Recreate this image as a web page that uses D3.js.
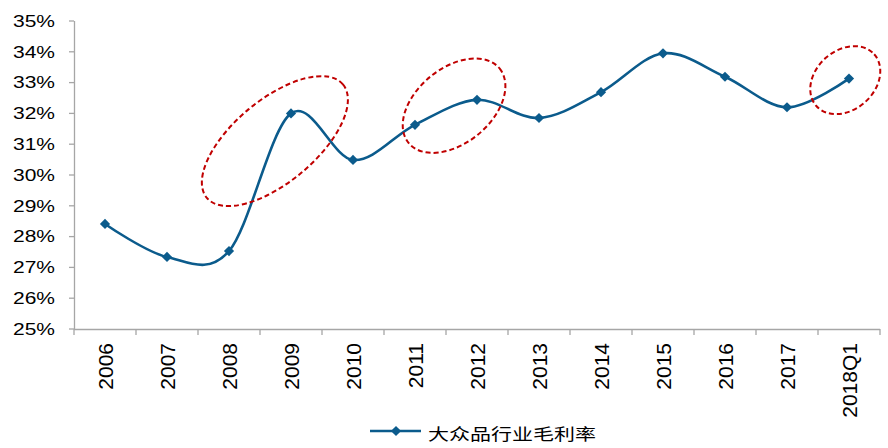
<!DOCTYPE html>
<html>
<head>
<meta charset="utf-8">
<script src="https://cdn.jsdelivr.net/npm/d3@7"></script>
<style>
  html, body { margin: 0; padding: 0; background: #fff; }
  svg { display: block; }
  text { font-family: "Liberation Sans", Arial, "Noto Sans CJK SC", sans-serif; fill: #000; }
</style>
</head>
<body>
<svg id="chart" width="888" height="448"></svg>
<script>
// Gross margin of the mass-consumer-goods sector, 2006 – 2018Q1 (%)
const categories = ["2006", "2007", "2008", "2009", "2010", "2011", "2012",
                    "2013", "2014", "2015", "2016", "2017", "2018Q1"];
const grossMargin = [28.41, 27.34, 27.53, 32.00, 30.49, 31.63, 32.44,
                     31.85, 32.69, 33.95, 33.19, 32.20, 33.13];
const yTicks = [25, 26, 27, 28, 29, 30, 31, 32, 33, 34, 35];
const seriesName = "大众品行业毛利率";

// Highlighted periods: centre given as (category index, value)
const highlights = [
  { idx: 2.74, value: 31.10, rx: 88.6, ry: 41.3, angle: -39.8 },
  { idx: 5.63, value: 32.25, rx: 58.8, ry: 37.5, angle: -39.3 },
  { idx: 11.94, value: 33.08, rx: 38.8, ry: 29.6, angle: -41.8 }
];

const svg = d3.select("#chart");
const plot = { left: 74, right: 880, top: 21, bottom: 329 };
const lineColor = "#0B5B8C";
const axisColor = "#A6A6A6";

const x = d3.scaleBand().domain(categories).range([plot.left, plot.right]).padding(0);
const y = d3.scaleLinear().domain([25, 35]).range([plot.bottom, plot.top]);
const cx = c => x(c) + x.bandwidth() / 2;

// Y axis
const yAxis = svg.append("g");
yAxis.append("line")
  .attr("x1", plot.left + 0.5).attr("x2", plot.left + 0.5)
  .attr("y1", y(35)).attr("y2", y(25))
  .attr("stroke", axisColor).attr("stroke-width", 1.3);
yAxis.selectAll(".ytick").data(yTicks).enter().append("line")
  .attr("x1", plot.left - 5).attr("x2", plot.left)
  .attr("y1", d => y(d)).attr("y2", d => y(d))
  .attr("stroke", axisColor).attr("stroke-width", 1.3);
yAxis.selectAll(".ylab").data(yTicks).enter().append("g")
  .attr("transform", d => `translate(55,${y(d)}) scale(1,0.78)`)
  .append("text")
  .attr("text-anchor", "end")
  .attr("dy", "0.36em")
  .style("font-size", "21px")
  .text(d => d + "%");

// X axis with ticks on category boundaries
const xAxis = svg.append("g");
xAxis.append("line")
  .attr("x1", plot.left).attr("x2", plot.right)
  .attr("y1", plot.bottom + 0.5).attr("y2", plot.bottom + 0.5)
  .attr("stroke", axisColor).attr("stroke-width", 1.3);
const boundaries = categories.map(c => x(c)).concat([plot.right]);
xAxis.selectAll(".xtick").data(boundaries).enter().append("line")
  .attr("x1", d => d).attr("x2", d => d)
  .attr("y1", plot.bottom).attr("y2", plot.bottom + 6)
  .attr("stroke", axisColor).attr("stroke-width", 1.3);
xAxis.selectAll(".xlab").data(categories).enter().append("text")
  .attr("transform", d => `translate(${cx(d) + 7.5},343) rotate(-90)`)
  .attr("text-anchor", "end")
  .style("font-size", "21px")
  .text(d => d);

// Smoothed series line
const pts = categories.map((c, i) => ({ c, v: grossMargin[i] }));
const line = d3.line()
  .x(d => cx(d.c)).y(d => y(d.v))
  .curve(d3.curveCatmullRom.alpha(0));
svg.append("path")
  .datum(pts)
  .attr("d", line)
  .attr("fill", "none")
  .attr("stroke", lineColor)
  .attr("stroke-width", 2.6);

const diamond = d3.symbol().type(d3.symbolSquare).size(52);
svg.selectAll(".pt").data(pts).enter().append("path")
  .attr("d", diamond)
  .attr("transform", d => `translate(${cx(d.c)},${y(d.v)}) rotate(45)`)
  .attr("fill", lineColor);

// Dashed highlight ellipses
svg.selectAll(".hl").data(highlights).enter().append("ellipse")
  .attr("transform", d => `translate(${x(categories[0]) + (d.idx + 0.5) * x.step()},${y(d.value)}) rotate(${d.angle})`)
  .attr("rx", d => d.rx).attr("ry", d => d.ry)
  .attr("fill", "none")
  .attr("stroke", "#C00000")
  .attr("stroke-width", 2)
  .attr("stroke-dasharray", "5,3");

// Legend
const lg = svg.append("g").attr("transform", "translate(370,431)");
lg.append("line").attr("x1", 0).attr("x2", 51).attr("y1", 0).attr("y2", 0)
  .attr("stroke", lineColor).attr("stroke-width", 2.6);
lg.append("path").attr("d", diamond).attr("transform", "translate(26,0) rotate(45)")
  .attr("fill", lineColor);
lg.append("g").attr("transform", "translate(58,3) scale(1,0.78)")
  .append("text")
  .attr("dy", "0.36em")
  .style("font-size", "21px")
  .style("font-family", "'Noto Sans CJK SC', sans-serif")
  .text(seriesName);
</script>
</body>
</html>
